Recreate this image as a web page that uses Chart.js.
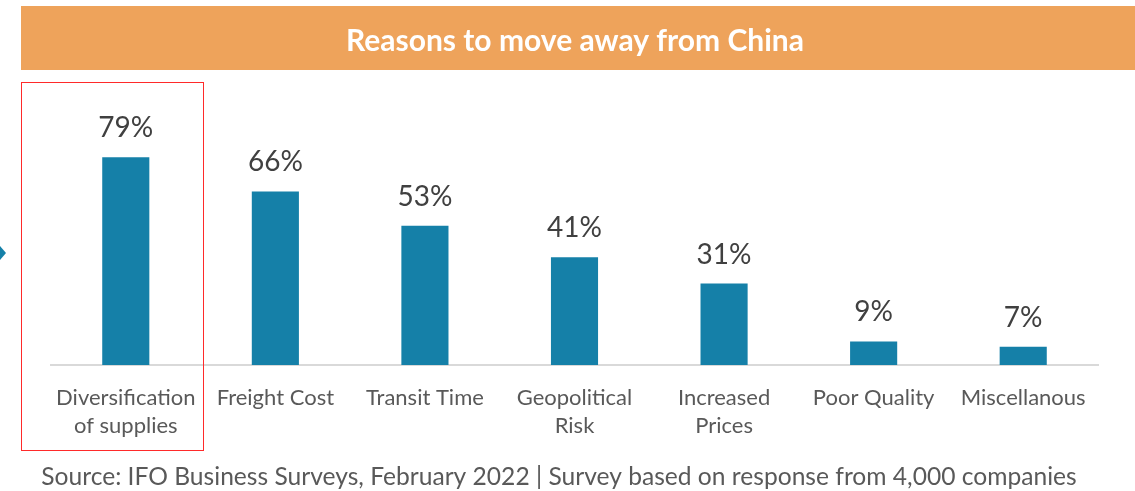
<!DOCTYPE html>
<html>
<head>
<meta charset="utf-8">
<script src="https://cdn.jsdelivr.net/npm/chart.js@4"></script>
<style>
  html, body { margin: 0; padding: 0; background: #fff; }
  #wrap { width: 1135px; height: 491px; position: relative; }
</style>
</head>
<body>
<div id="wrap"><canvas id="chart"></canvas></div>
<script>
const categories = [
  ['Diversification', 'of supplies'],
  'Freight Cost',
  'Transit Time',
  ['Geopolitical', 'Risk'],
  ['Increased', 'Prices'],
  'Poor Quality',
  'Miscellanous'
];
const shares = [79, 66, 53, 41, 31, 9, 7];

const titleText = 'Reasons to move away from China';
const sourceText = 'Source: IFO Business Surveys, February 2022 | Survey based on response from 4,000 companies';

const FONT = 'Lato, "Open Sans", sans-serif';

// banner + title behind the chart
const frame = {
  id: 'frame',
  beforeDraw(chart) {
    const ctx = chart.ctx;
    ctx.save();
    ctx.fillStyle = '#eea35b';
    ctx.fillRect(21, 6, chart.width - 21, 64);
    ctx.fillStyle = '#ffffff';
    ctx.font = 'bold 30px ' + FONT;
    ctx.textAlign = 'center';
    ctx.textBaseline = 'middle';
    ctx.fillText(titleText, 575, 41);
    ctx.restore();
  },
  afterDraw(chart) {
    const ctx = chart.ctx;
    ctx.save();
    // highlight box round the first category
    ctx.strokeStyle = '#ff2a2a';
    ctx.lineWidth = 1;
    ctx.strokeRect(21.5, 82.5, 182, 368);
    // little pointer on the left edge
    ctx.fillStyle = '#1580a8';
    ctx.beginPath();
    ctx.moveTo(0, 246);
    ctx.lineTo(6, 253);
    ctx.lineTo(0, 260);
    ctx.closePath();
    ctx.fill();
    // source line
    ctx.fillStyle = '#595959';
    ctx.font = '24.6px ' + FONT;
    ctx.textAlign = 'center';
    ctx.textBaseline = 'middle';
    ctx.fillText(sourceText, 559, 477);
    ctx.restore();
  }
};

// percentage labels over the bars
const valueLabels = {
  id: 'valueLabels',
  afterDatasetsDraw(chart) {
    const ctx = chart.ctx;
    const meta = chart.getDatasetMeta(0);
    ctx.save();
    ctx.fillStyle = '#404040';
    ctx.font = '28px ' + FONT;
    ctx.textAlign = 'center';
    ctx.textBaseline = 'alphabetic';
    meta.data.forEach((bar, i) => {
      ctx.fillText(shares[i] + '%', bar.x, bar.y - 20);
    });
    ctx.restore();
  }
};

new Chart(document.getElementById('chart'), {
  type: 'bar',
  data: {
    labels: categories,
    datasets: [{
      data: shares,
      backgroundColor: '#1580a8',
      categoryPercentage: 1,
      barPercentage: 0.315
    }]
  },
  options: {
    responsive: true,
    maintainAspectRatio: false,
    animation: false,
    layout: { padding: { top: 102, left: 51, right: 37, bottom: 32 } },
    plugins: {
      legend: { display: false },
      tooltip: { enabled: false }
    },
    scales: {
      x: {
        grid: { display: false, drawTicks: false },
        border: { display: true, color: '#d9d9d9', width: 2 },
        ticks: {
          color: '#595959',
          font: { family: FONT, size: 22, lineHeight: 1.27 },
          padding: 19,
          maxRotation: 0,
          autoSkip: false
        }
      },
      y: {
        display: false,
        min: 0,
        max: 100
      }
    }
  },
  plugins: [frame, valueLabels]
});
</script>
</body>
</html>
